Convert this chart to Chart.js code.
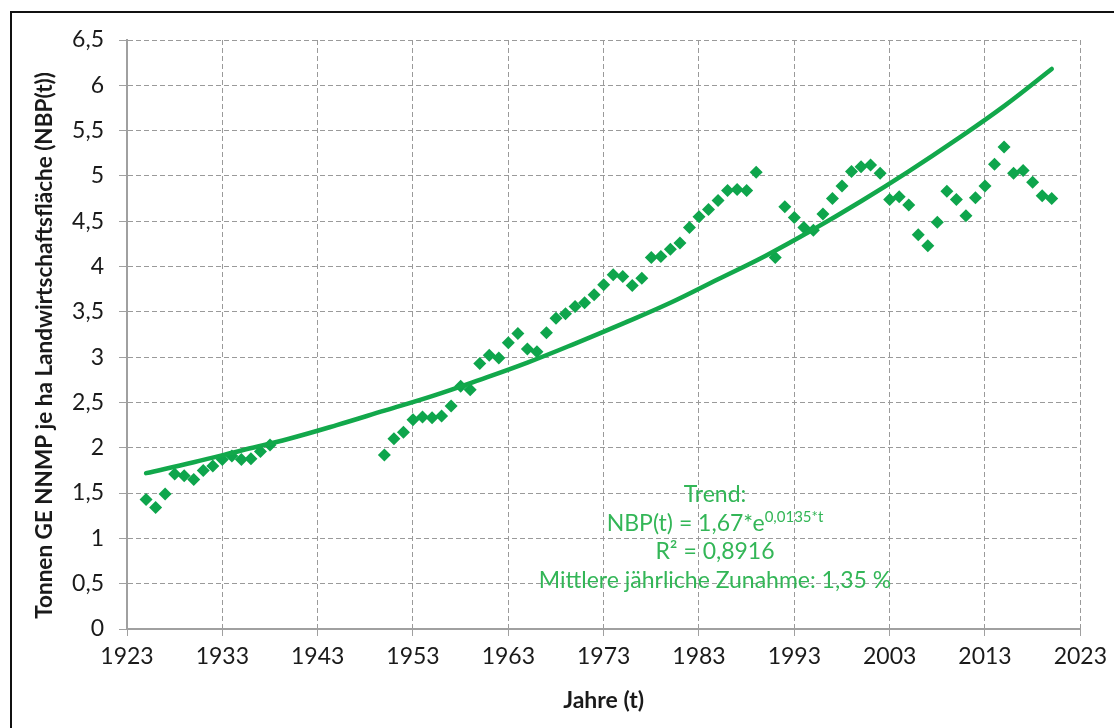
<!DOCTYPE html>
<html>
<head>
<meta charset="utf-8">
<script src="https://cdn.jsdelivr.net/npm/chart.js@4"></script>
<style>
    body { margin: 0; background: #fff; }
    #wrap { position: relative; width: 1114px; height: 728px; overflow: hidden; }
    #frame { position: absolute; left: 10px; top: 11px; width: 1200px; height: 800px;
             border-top: 2px solid #111; border-left: 2px solid #111; }
    #chart { position: absolute; left: 0; top: 0; }
    #trend { position: absolute; left: 465px; top: 479px; width: 500px; text-align: center;
             font-family: Lato, sans-serif; font-size: 23px; line-height: 28.5px; color: #33b657; }
    #trend sup { font-size: 15px; vertical-align: 9px; line-height: 0; }
</style>
</head>
<body>
<div id="wrap">
    <div id="frame"></div>
    <canvas id="chart" width="1114" height="728"></canvas>
    <div id="trend">
        Trend:<br>
        NBP(t) = 1,67*e<sup>0,0135*t</sup><br>
        R² = 0,8916<br>
        Mittlere jährliche Zunahme: 1,35 %
    </div>
</div>
<script>
const years = [1925, 1926, 1927, 1928, 1929, 1930, 1931, 1932, 1933, 1934, 1935, 1936, 1937, 1938,
    1950, 1951, 1952, 1953, 1954, 1955, 1956, 1957, 1958, 1959, 1960, 1961, 1962, 1963, 1964, 1965,
    1966, 1967, 1968, 1969, 1970, 1971, 1972, 1973, 1974, 1975, 1976, 1977, 1978, 1979, 1980, 1981,
    1982, 1983, 1984, 1985, 1986, 1987, 1988, 1989,
    1991, 1992, 1993, 1994, 1995, 1996, 1997, 1998, 1999, 2000, 2001, 2002, 2003, 2004, 2005, 2006,
    2007, 2008, 2009, 2010, 2011, 2012, 2013, 2014, 2015, 2016, 2017, 2018, 2019, 2020];
const nbp = [1.43, 1.34, 1.49, 1.71, 1.69, 1.65, 1.75, 1.80, 1.87, 1.91, 1.87, 1.88, 1.96, 2.03,
    1.92, 2.10, 2.17, 2.31, 2.34, 2.33, 2.35, 2.46, 2.68, 2.64, 2.93, 3.02, 2.99, 3.16, 3.26, 3.09,
    3.06, 3.27, 3.43, 3.48, 3.56, 3.60, 3.69, 3.80, 3.91, 3.89, 3.79, 3.87, 4.10, 4.11, 4.19, 4.26,
    4.43, 4.55, 4.63, 4.73, 4.84, 4.85, 4.84, 5.04,
    4.10, 4.66, 4.54, 4.43, 4.40, 4.58, 4.75, 4.89, 5.05, 5.10, 5.12, 5.03, 4.74, 4.77, 4.68, 4.35,
    4.23, 4.49, 4.83, 4.74, 4.56, 4.76, 4.89, 5.13, 5.32, 5.03, 5.06, 4.93, 4.78, 4.75];

// trend curve
const trendYears = [1925, 1930, 1935, 1940, 1945, 1950, 1955, 1960, 1965, 1970,
    1975, 1980, 1985, 1990, 1995, 2000, 2005, 2010, 2015, 2020];
const trendValues = [1.72, 1.84, 1.97, 2.10, 2.25, 2.41, 2.57, 2.75, 2.94, 3.15,
    3.37, 3.60, 3.86, 4.12, 4.41, 4.72, 5.05, 5.40, 5.77, 6.18];

const xTicks = [1923, 1933, 1943, 1953, 1963, 1973, 1983, 1993, 2003, 2013, 2023];

const green = '#0ea54c';
const gridGray = '#9a9a9a';
const axisGray = '#a0a0a0';

new Chart(document.getElementById('chart').getContext('2d'), {
    type: 'scatter',
    data: {
        datasets: [{
            label: 'NBP(t)',
            data: years.map((y, i) => ({ x: y, y: nbp[i] })),
            pointStyle: 'rectRot',
            pointRadius: 6.5,
            backgroundColor: green,
            borderColor: green,
            borderWidth: 0,
            order: 1
        }, {
            label: 'Trend',
            type: 'line',
            data: trendYears.map((y, i) => ({ x: y, y: trendValues[i] })),
            borderColor: '#12a84b',
            borderWidth: 4.5,
            borderCapStyle: 'round',
            pointRadius: 0,
            tension: 0.4,
            fill: false,
            order: 0
        }]
    },
    options: {
        responsive: false,
        animation: false,
        layout: { padding: { left: 0, right: 33, top: 40, bottom: 0 } },
        plugins: {
            legend: { display: false },
            tooltip: { enabled: false }
        },
        scales: {
            x: {
                type: 'linear',
                min: 1923,
                max: 2023,
                afterBuildTicks: scale => { scale.ticks = xTicks.map(v => ({ value: v })); },
                afterFit: scale => { scale.height = 99; },
                grid: {
                    color: gridGray,
                    tickBorderDash: [],
                    tickColor: axisGray,
                    tickLength: 7
                },
                border: { display: true, color: axisGray, width: 2, dash: [5, 3] },
                ticks: {
                    callback: v => String(v),
                    color: '#1a1a1a',
                    padding: 7,
                    maxRotation: 0,
                    font: { family: 'Lato', size: 23 }
                },
                title: {
                    display: true,
                    text: 'Jahre (t)',
                    color: '#1a1a1a',
                    padding: { top: 0, bottom: 14 },
                    font: { family: 'Lato', size: 23, weight: 'bold' }
                }
            },
            y: {
                min: 0,
                max: 6.5,
                ticks: {
                    stepSize: 0.5,
                    callback: v => String(v).replace('.', ','),
                    color: '#1a1a1a',
                    padding: 15,
                    font: { family: 'Lato', size: 23 }
                },
                afterFit: scale => { scale.width = 127; },
                grid: {
                    color: gridGray,
                    tickBorderDash: [],
                    tickColor: axisGray,
                    tickLength: 8
                },
                border: { display: true, color: axisGray, width: 2, dash: [5, 3] },
                title: {
                    display: true,
                    // trailing spaces nudge the centred title a little lower, as in the original
                    text: 'Tonnen GE NNMP je ha Landwirtschaftsfläche (NBP(t))\u00a0\u00a0\u00a0\u00a0',
                    color: '#1a1a1a',
                    padding: { top: 31, bottom: 0 },
                    font: { family: 'Lato', size: 22.5, weight: 'bold' }
                }
            }
        }
    }
});
</script>
</body>
</html>
